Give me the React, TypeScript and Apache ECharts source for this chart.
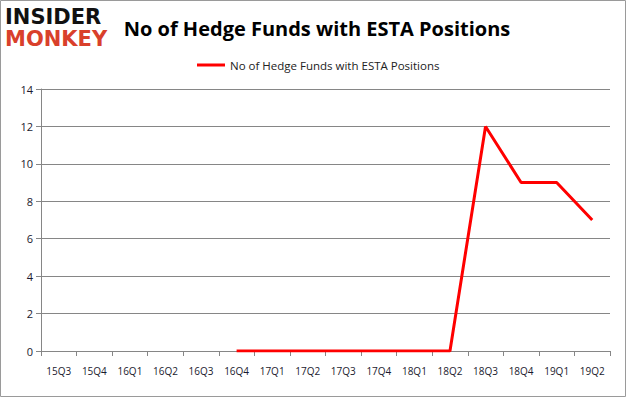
import React, { useEffect, useRef } from "react";
import * as echarts from "echarts";

const categories = ["15Q3", "15Q4", "16Q1", "16Q2", "16Q3", "16Q4", "17Q1", "17Q2", "17Q3", "17Q4", "18Q1", "18Q2", "18Q3", "18Q4", "19Q1", "19Q2"];
const hedgeFunds: (number | null)[] = [null, null, null, null, null, 0, 0, 0, 0, 0, 0, 0, 12, 9, 9, 7];
const seriesName = "No of Hedge Funds with ESTA Positions";
const titleText = "No of Hedge Funds with ESTA Positions";

export default function App() {
  const ref = useRef<HTMLDivElement>(null);
  useEffect(() => {
    if (!ref.current) return;
    const chart = echarts.init(ref.current, undefined, { renderer: "svg" });
    chart.setOption({
      animation: false,
      backgroundColor: "#ffffff",
      title: {
        text: titleText,
        left: 312,
        top: 13,
        textAlign: "center",
        textStyle: { fontFamily: "Open Sans", fontWeight: "bold", fontSize: 20, color: "#000" },
      },
      legend: {
        top: 54,
        left: 192,
        itemWidth: 28,
        itemHeight: 3,
        itemGap: 4,
        icon: "rect",
        textStyle: { fontFamily: "Open Sans", fontSize: 11.5, color: "#222" },
        data: [seriesName],
      },
      graphic: [
        { type: "rect", shape: { x: 0.5, y: 0.5, width: 625, height: 396 }, style: { fill: "none", stroke: "#9a9a9a", lineWidth: 1 } },
        { type: "text", x: 5, y: 6, style: { text: "INSIDER", fontFamily: "DejaVu Sans", fontWeight: 900, fontSize: 21, fill: "#111" } },
        { type: "text", x: 5, y: 28, style: { text: "MONKEY", fontFamily: "DejaVu Sans", fontWeight: 900, fontSize: 21, fill: "#d9402b" } },
      ],
      grid: { left: 41, right: 16, top: 89, bottom: 46 },
      xAxis: {
        type: "category",
        data: categories,
        boundaryGap: true,
        axisLine: { lineStyle: { color: "#868686" } },
        axisTick: { show: true, alignWithLabel: false, interval: 0, length: 5, lineStyle: { color: "#868686" } },
        axisLabel: { interval: 0, fontFamily: "Open Sans", fontSize: 10, color: "#1a1a2e", margin: 15 },
      },
      yAxis: {
        type: "value",
        min: 0,
        max: 14,
        interval: 2,
        axisLine: { show: true, lineStyle: { color: "#868686" } },
        axisTick: { show: true, length: 5, lineStyle: { color: "#868686" } },
        splitLine: { lineStyle: { color: "#868686" } },
        axisLabel: { fontFamily: "Open Sans", fontSize: 11, color: "#1a1a2e", margin: 8 },
      },
      series: [
        {
          name: seriesName,
          type: "line",
          data: hedgeFunds,
          symbol: "none",
          lineStyle: { color: "#ff0000", width: 3 },
          itemStyle: { color: "#ff0000" },
        },
      ],
    });
    return () => chart.dispose();
  }, []);
  return <div ref={ref} style={{ position: "fixed", left: 0, top: 0, width: 626, height: 397 }} />;
}
